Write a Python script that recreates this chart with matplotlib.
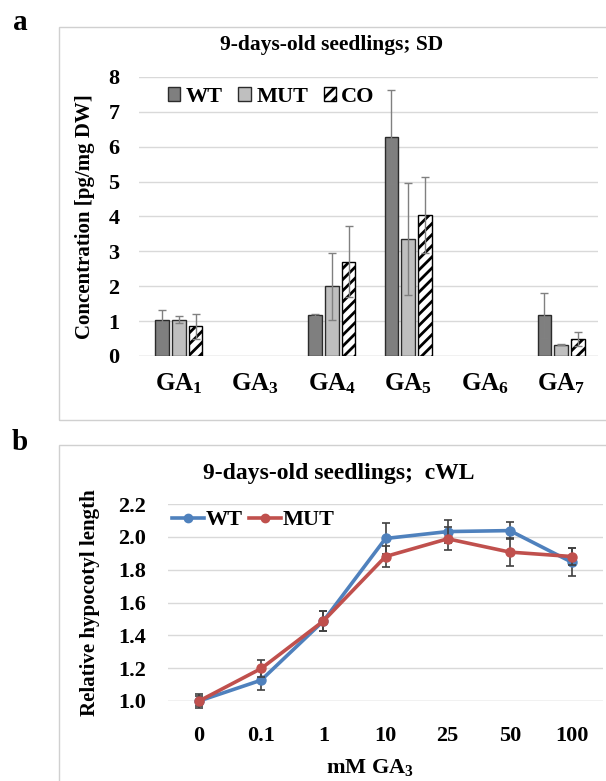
import numpy as np
import matplotlib
matplotlib.use("Agg")
import matplotlib.pyplot as plt
from matplotlib.patches import Rectangle, Patch
from matplotlib.lines import Line2D

plt.rcParams['font.family'] = ['Liberation Serif', 'DejaVu Serif']
plt.rcParams['font.weight'] = 'bold'
plt.rcParams['axes.labelweight'] = 'bold'
plt.rcParams['mathtext.fontset'] = 'custom'
plt.rcParams['mathtext.rm'] = 'Liberation Serif:bold'
plt.rcParams['mathtext.it'] = 'Liberation Serif:bold'
plt.rcParams['mathtext.bf'] = 'Liberation Serif:bold'
plt.rcParams['hatch.linewidth'] = 2.0

# Panel a: GA concentrations
gas = ['GA$_1$', 'GA$_3$', 'GA$_4$', 'GA$_5$', 'GA$_6$', 'GA$_7$']
wt = [1.04, np.nan, 1.17, 6.27, np.nan, 1.17]
wt_err = [0.27, np.nan, 0.02, 1.35, np.nan, 0.64]
mut = [1.04, np.nan, 2.00, 3.36, np.nan, 0.32]
mut_err = [0.10, np.nan, 0.96, 1.60, np.nan, 0.01]
co = [0.85, np.nan, 2.70, 4.03, np.nan, 0.48]
co_err = [0.35, np.nan, 1.02, 1.09, np.nan, 0.20]

# Panel b: hypocotyl length
doses = ['0', '0.1', '1', '10', '25', '50', '100']
wt_len = [1.00, 1.127, 1.487, 1.99, 2.032, 2.038, 1.845]
wt_len_err = [0.04, 0.06, 0.06, 0.095, 0.07, 0.05, 0.085]
mut_len = [1.00, 1.198, 1.487, 1.88, 1.988, 1.907, 1.88]
mut_len_err = [0.03, 0.05, 0.06, 0.065, 0.07, 0.083, 0.05]

W, H = 606, 781
fig = plt.figure(figsize=(W / 100, H / 100), dpi=100)

def fx(px):
    return px / W

def fy(py):
    return 1 - py / H

frame_col = '#d0d0d0'
grid_col = '#d9d9d9'

# panel frames
fig.patches.append(Rectangle((fx(59), fy(420)), 1.0, fy(27) - fy(420),
                             transform=fig.transFigure, fill=False,
                             edgecolor=frame_col, lw=1))
fig.patches.append(Rectangle((fx(59), fy(800)), 1.0, fy(445) - fy(800),
                             transform=fig.transFigure, fill=False,
                             edgecolor=frame_col, lw=1))
fig.text(fx(20), fy(23), 'a', fontsize=21, fontweight='bold', ha='center', va='center')
fig.text(fx(20), fy(443), 'b', fontsize=21, fontweight='bold', ha='center', va='center')

# ---- panel a ----
ax = fig.add_axes([fx(139), fy(356), fx(598) - fx(139), fy(77) - fy(356)])
x = np.arange(len(gas))
bw = 0.18
off = 0.22
ekw = dict(ecolor='#808080', elinewidth=1, capsize=3, capthick=1)
ax.bar(x - off, wt, bw, yerr=wt_err, color='#7f7f7f', edgecolor='#2b2b2b',
       lw=1, error_kw=ekw, zorder=3)
ax.bar(x, mut, bw, yerr=mut_err, color='#bfbfbf', edgecolor='#2b2b2b',
       lw=1, error_kw=ekw, zorder=3)
ax.bar(x + off, co, bw, yerr=co_err, color='white', edgecolor='black',
       hatch='///', lw=1, error_kw=ekw, zorder=3)
ax.set_xlim(-0.52, 5.48)
ax.set_ylim(0, 8)
ax.set_yticks(range(0, 9))
ax.set_xticks(x)
ax.set_xticklabels(gas, fontsize=18)
ax.tick_params(axis='x', length=0, pad=11)
ax.tick_params(axis='y', length=0, labelsize=16, pad=14)
ax.yaxis.grid(True, color=grid_col, lw=1, zorder=0)
for s in ax.spines.values():
    s.set_visible(False)
ax.axhline(0, color=grid_col, lw=1, zorder=1)
ax.set_ylabel('Concentration [pg/mg DW]', fontsize=15, labelpad=10)
fig.text(fx(332), fy(45), '9-days-old seedlings; SD', fontsize=15.5,
         ha='center', va='center')
leg_a = [Patch(facecolor='#7f7f7f', edgecolor='#2b2b2b', label='WT'),
         Patch(facecolor='#bfbfbf', edgecolor='#2b2b2b', label='MUT'),
         Patch(facecolor='white', edgecolor='black', hatch='///', label='CO')]
ax.legend(handles=leg_a, loc='center left', bbox_to_anchor=(fx(168), fy(97)),
          bbox_transform=fig.transFigure, ncol=3, frameon=False, fontsize=16,
          handlelength=0.55, handleheight=0.55, handletextpad=0.25,
          columnspacing=0.7, borderpad=0, borderaxespad=0)

# ---- panel b ----
bx = fig.add_axes([fx(168), fy(701), fx(603) - fx(168), fy(504) - fy(701)])
xb = np.arange(len(doses))
blue = '#4f81bd'
red = '#c0504d'
bx.errorbar(xb, wt_len, yerr=wt_len_err, color=blue, lw=2.6, marker='o',
            ms=6.5, ecolor='#404040', elinewidth=1.2, capsize=3, capthick=1.2,
            zorder=3, clip_on=False)
bx.errorbar(xb, mut_len, yerr=mut_len_err, color=red, lw=2.6, marker='o',
            ms=6.5, ecolor='#404040', elinewidth=1.2, capsize=3, capthick=1.2,
            zorder=4, clip_on=False)
bx.set_xlim(-0.5, 6.5)
bx.set_ylim(1.0, 2.2)
yt = np.arange(1.0, 2.21, 0.2)
bx.set_yticks(yt)
bx.set_yticklabels([f'{v:.1f}' for v in yt])
bx.set_xticks(xb)
bx.set_xticklabels(doses)
bx.tick_params(axis='x', length=0, labelsize=16, pad=18)
bx.tick_params(axis='y', length=0, labelsize=16, pad=16)
bx.yaxis.grid(True, color=grid_col, lw=1, zorder=0)
for s in bx.spines.values():
    s.set_visible(False)
bx.axhline(1.0, color=grid_col, lw=1, zorder=1)
bx.set_ylabel('Relative hypocotyl length', fontsize=15, labelpad=13)
fig.text(fx(370), fy(768), 'mM GA$_3$', fontsize=16, ha='center', va='center')
fig.text(fx(339), fy(474), '9-days-old seedlings;  cWL', fontsize=17,
         ha='center', va='center')
leg_b = [Line2D([], [], color=blue, lw=2.6, marker='o', ms=6, label='WT'),
         Line2D([], [], color=red, lw=2.6, marker='o', ms=6, label='MUT')]
bx.legend(handles=leg_b, loc='center left', bbox_to_anchor=(fx(172), fy(520)),
          bbox_transform=fig.transFigure, ncol=2, frameon=False, fontsize=16,
          handlelength=1.45, handletextpad=0.05, columnspacing=0.3,
          borderpad=0, borderaxespad=0)

fig.savefig('out.png', dpi=100)
